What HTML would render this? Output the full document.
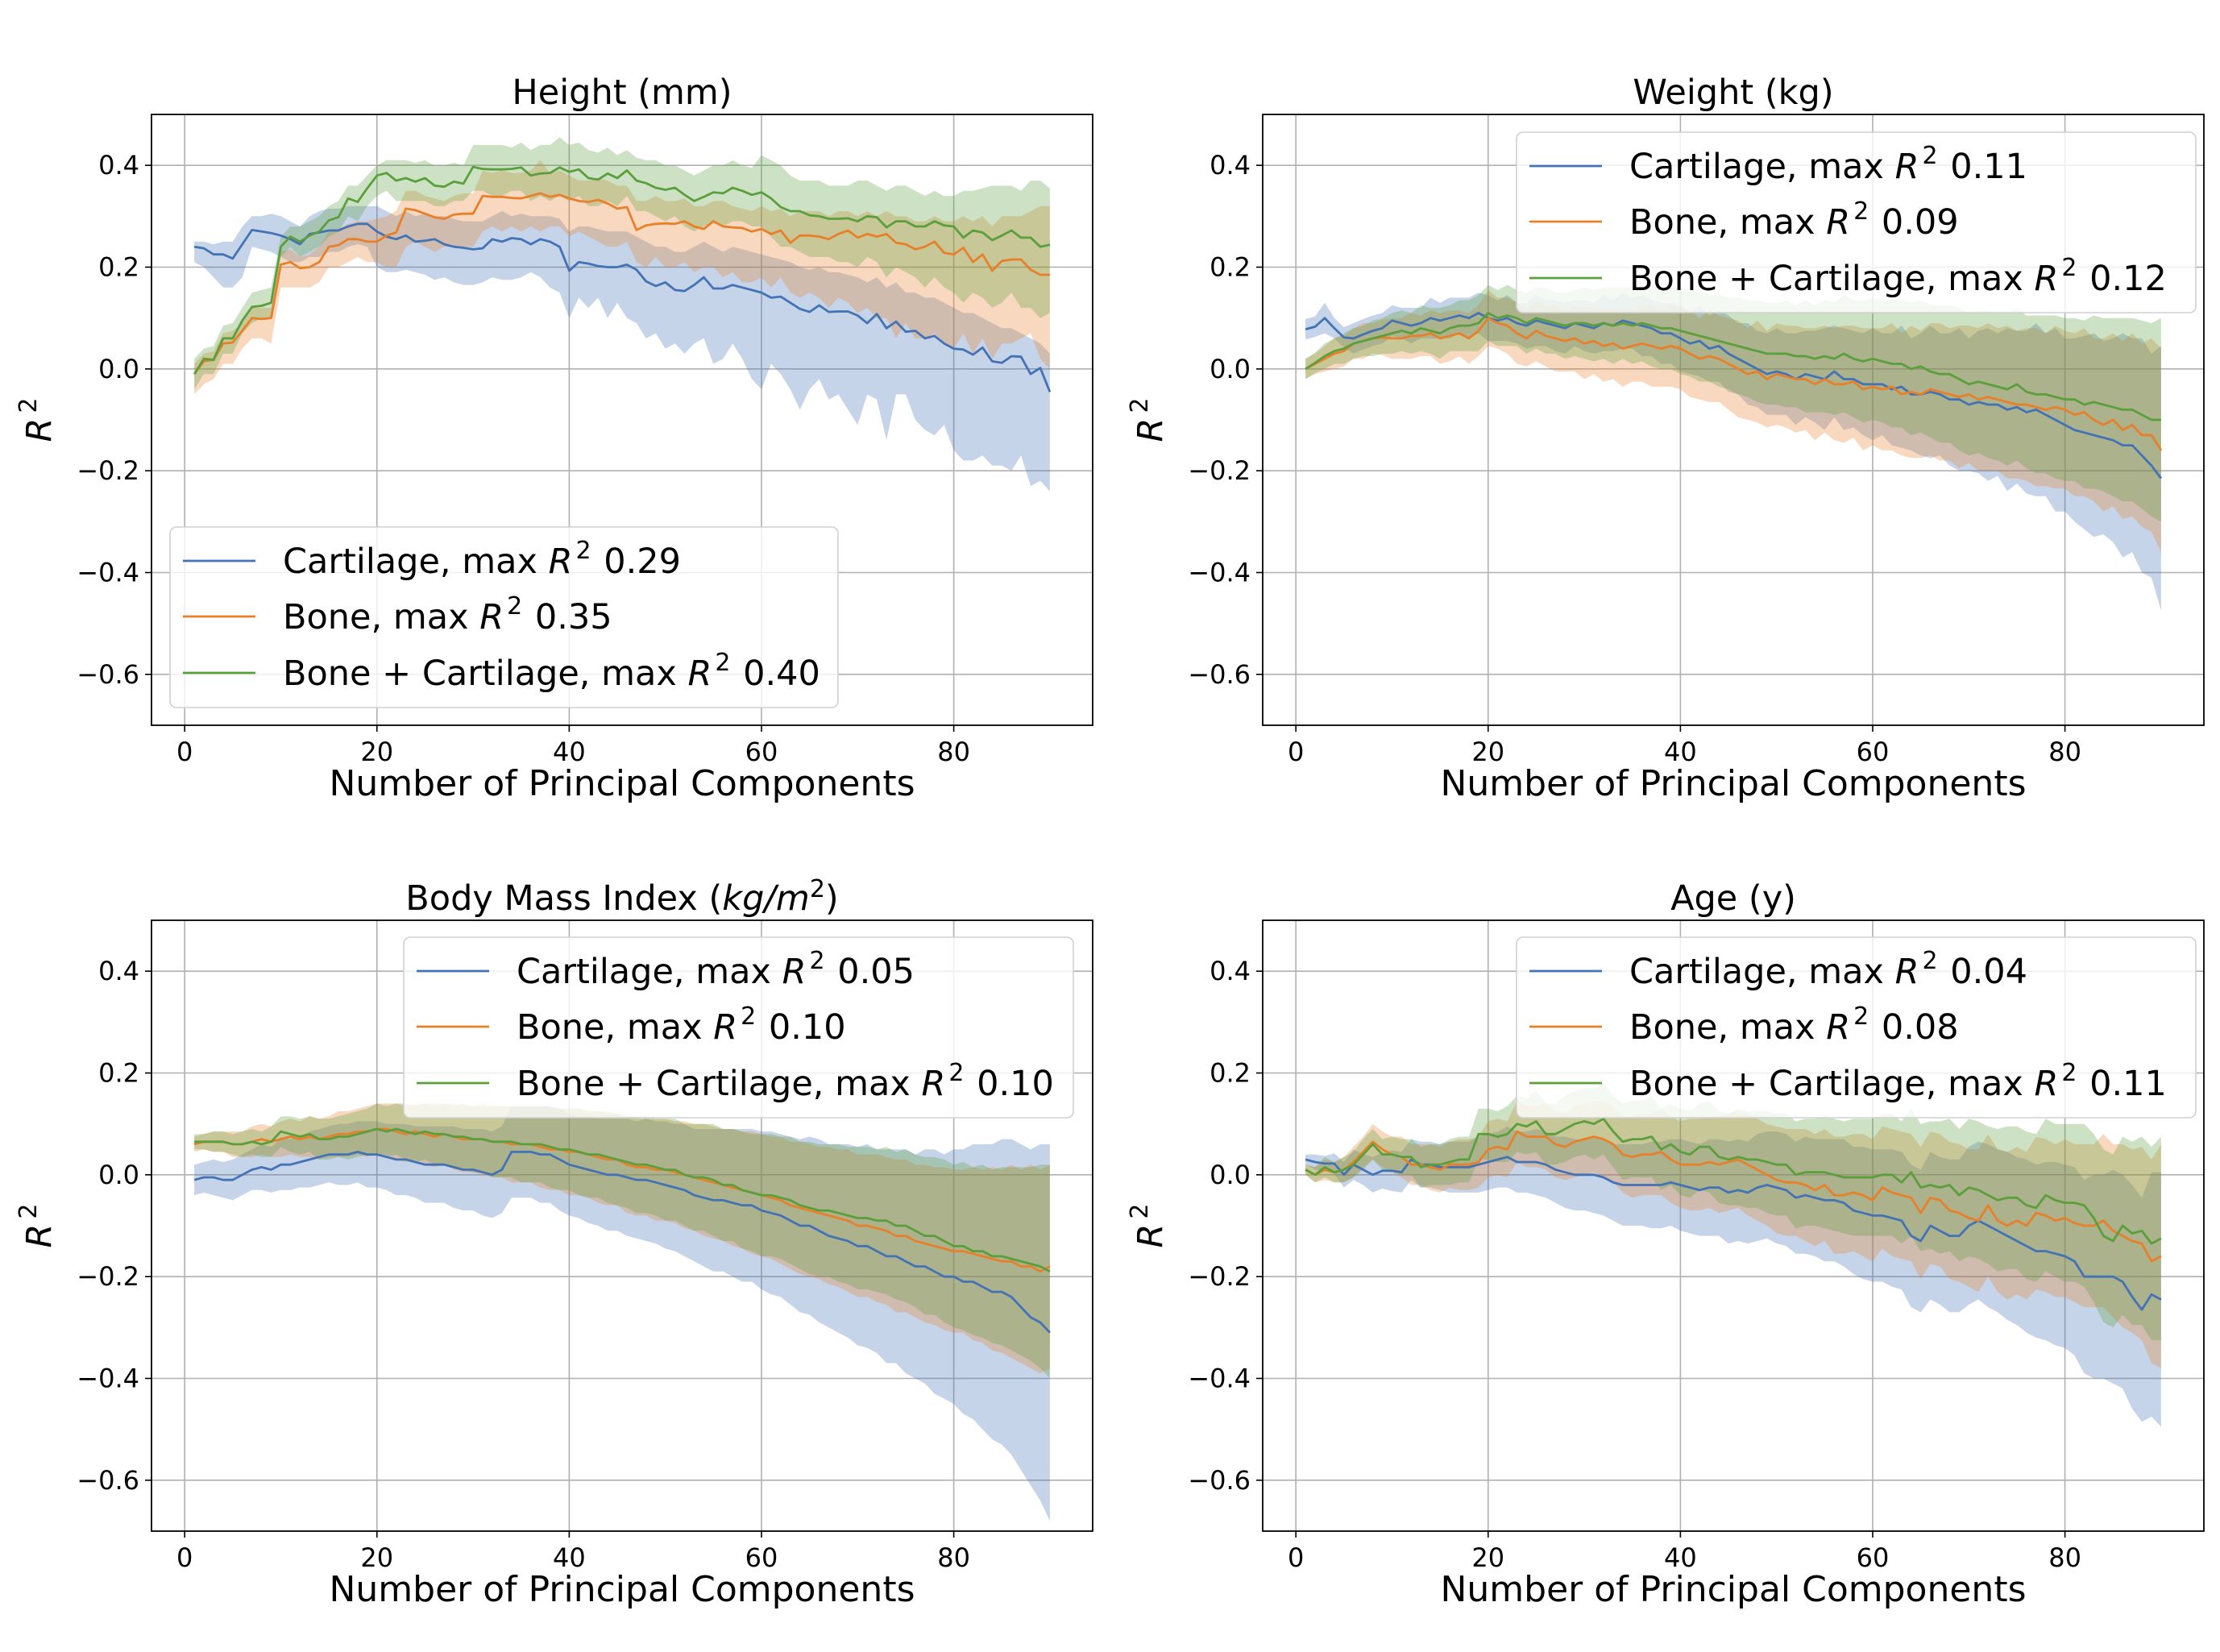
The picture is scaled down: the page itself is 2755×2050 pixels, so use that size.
<!DOCTYPE html>
<html><head><meta charset="utf-8">
<style>
html,body{margin:0;padding:0;background:#fff;}
svg{display:block;font-family:"DejaVu Sans","Liberation Sans",sans-serif;}
</style></head>
<body>
<svg id="fig" width="2755" height="2050" viewBox="0 0 2755 2050" xmlns="http://www.w3.org/2000/svg"></svg>
<script>
// ---------- data ----------
const xTicks = [0, 20, 40, 60, 80];
const yTicks = [-0.6, -0.4, -0.2, 0.0, 0.2, 0.4];
const yTickLabels = ["\u22120.6", "\u22120.4", "\u22120.2", "0.0", "0.2", "0.4"];
const seriesNames = ["Cartilage", "Bone", "Bone + Cartilage"];
const panelTitles = ["Height (mm)", "Weight (kg)", "Body Mass Index", "Age (y)"];
const maxR2Height = ["0.29", "0.35", "0.40"];
const maxR2Weight = ["0.11", "0.09", "0.12"];
const maxR2Bmi = ["0.05", "0.10", "0.10"];
const maxR2Age = ["0.04", "0.08", "0.11"];

// Height
const hCartMean = [.24,.237,.225,.225,.217,.245,.273,.27,.267,.262,.255,.245,.265,.268,.272,.272,.28,.285,.285,.27,.26,.255,.262,.25,.252,.255,.245,.24,.238,.235,.237,.255,.25,.257,.255,.245,.255,.25,.24,.193,.21,.207,.202,.2,.2,.205,.195,.172,.163,.17,.155,.153,.165,.18,.158,.158,.165,.16,.155,.15,.14,.142,.13,.118,.112,.125,.112,.113,.113,.105,.09,.108,.08,.093,.073,.075,.06,.065,.05,.04,.038,.028,.042,.015,.012,.025,.024,-.01,.002,-.045];
const hCartHi = [.25,.25,.245,.25,.25,.28,.3,.3,.305,.3,.29,.28,.3,.31,.315,.315,.32,.32,.32,.32,.31,.3,.31,.3,.305,.3,.3,.295,.29,.29,.29,.3,.31,.3,.305,.3,.3,.3,.295,.27,.28,.28,.275,.27,.27,.27,.26,.25,.24,.24,.23,.23,.24,.25,.24,.23,.24,.235,.23,.225,.22,.215,.21,.2,.195,.2,.19,.19,.185,.18,.17,.18,.16,.17,.15,.15,.14,.14,.13,.12,.11,.11,.1,.09,.08,.08,.07,.06,.05,.03];
const hCartLo = [.21,.2,.18,.16,.16,.18,.24,.235,.23,.22,.21,.21,.22,.22,.23,.23,.24,.245,.24,.2,.19,.19,.195,.19,.185,.175,.18,.17,.165,.165,.17,.18,.175,.175,.18,.19,.18,.16,.15,.1,.14,.12,.14,.1,.13,.1,.09,.06,.07,.04,.05,.03,.05,.06,.01,.02,.05,.02,-.02,-.04,.01,-.01,-.04,-.08,-.04,-.02,-.06,-.05,-.08,-.11,-.05,-.06,-.14,-.05,-.05,-.1,-.12,-.13,-.11,-.16,-.18,-.18,-.17,-.19,-.19,-.2,-.17,-.23,-.22,-.24];
const hBoneMean = [-.01,.015,.018,.05,.052,.075,.1,.098,.1,.205,.21,.198,.2,.21,.24,.243,.255,.255,.25,.25,.262,.268,.315,.312,.305,.298,.295,.303,.305,.305,.34,.338,.338,.336,.335,.34,.345,.338,.342,.335,.33,.328,.332,.325,.315,.318,.273,.282,.285,.286,.285,.29,.28,.275,.29,.28,.278,.277,.27,.275,.265,.272,.248,.262,.262,.26,.255,.265,.272,.258,.265,.26,.265,.248,.245,.235,.24,.25,.228,.225,.238,.21,.225,.193,.212,.215,.215,.195,.185,.185];
const hBoneHi = [.01,.03,.035,.07,.075,.09,.12,.12,.12,.23,.235,.22,.225,.24,.27,.275,.285,.29,.29,.295,.3,.31,.35,.35,.34,.335,.33,.34,.345,.345,.39,.385,.39,.385,.385,.39,.41,.385,.39,.38,.37,.37,.375,.37,.36,.36,.33,.33,.34,.33,.33,.335,.32,.32,.33,.33,.32,.315,.31,.32,.31,.315,.3,.31,.31,.31,.3,.31,.31,.3,.31,.3,.31,.3,.3,.29,.29,.3,.29,.29,.3,.29,.3,.28,.3,.3,.3,.31,.32,.32];
const hBoneLo = [-.05,-.03,-.02,.01,.01,.04,.06,.06,.05,.16,.16,.16,.16,.17,.2,.2,.21,.22,.21,.21,.2,.2,.24,.25,.24,.23,.24,.24,.24,.24,.27,.28,.27,.28,.27,.28,.27,.28,.28,.26,.27,.26,.25,.24,.24,.25,.21,.2,.22,.2,.2,.21,.19,.2,.2,.18,.19,.17,.17,.18,.16,.18,.15,.14,.15,.14,.12,.14,.13,.11,.12,.1,.1,.06,.09,.06,.06,.07,.05,.04,.07,.03,.06,.02,.05,.05,.06,.07,.02,.0];
const hBcMean = [-.01,.02,.018,.06,.06,.095,.122,.124,.13,.24,.26,.25,.262,.27,.292,.298,.335,.328,.355,.38,.385,.37,.375,.368,.375,.36,.358,.368,.364,.397,.393,.392,.392,.393,.396,.38,.384,.385,.396,.387,.392,.375,.372,.384,.375,.39,.37,.365,.356,.352,.356,.342,.33,.338,.347,.345,.356,.35,.342,.347,.335,.318,.31,.31,.302,.3,.295,.295,.296,.29,.3,.298,.278,.29,.29,.28,.28,.29,.282,.28,.258,.272,.268,.253,.262,.272,.258,.258,.24,.244];
const hBcHi = [.02,.04,.045,.085,.09,.12,.15,.155,.16,.26,.28,.28,.29,.3,.32,.33,.36,.36,.38,.4,.41,.41,.41,.405,.41,.4,.4,.405,.4,.44,.44,.44,.44,.435,.445,.43,.44,.44,.455,.44,.445,.43,.425,.435,.42,.43,.415,.41,.41,.4,.4,.39,.38,.39,.4,.4,.41,.4,.395,.42,.41,.4,.38,.37,.37,.37,.36,.36,.36,.37,.37,.36,.35,.36,.36,.35,.34,.35,.34,.34,.35,.35,.355,.36,.36,.36,.35,.37,.37,.355];
const hBcLo = [-.04,-.01,-.01,.03,.03,.07,.09,.1,.1,.22,.24,.22,.23,.24,.26,.27,.3,.29,.32,.34,.35,.33,.33,.33,.33,.32,.32,.33,.33,.35,.35,.34,.34,.35,.35,.33,.34,.33,.34,.33,.34,.32,.32,.33,.32,.34,.31,.31,.3,.29,.3,.28,.27,.28,.29,.28,.29,.29,.28,.28,.26,.24,.24,.23,.22,.22,.22,.21,.21,.2,.22,.21,.18,.2,.19,.18,.16,.18,.16,.15,.13,.15,.14,.12,.13,.15,.12,.12,.1,.11];

// Weight
const wCartMean = [.078,.083,.1,.08,.062,.06,.068,.075,.08,.095,.09,.085,.09,.1,.095,.1,.105,.1,.11,.1,.095,.1,.09,.085,.095,.09,.085,.08,.09,.085,.08,.09,.085,.095,.09,.085,.08,.07,.07,.06,.05,.055,.04,.045,.03,.02,.01,.0,-.01,-.005,-.01,-.02,-.01,-.015,-.02,-.005,-.02,-.02,-.03,-.03,-.03,-.04,-.035,-.05,-.05,-.045,-.05,-.06,-.06,-.07,-.065,-.07,-.07,-.08,-.075,-.085,-.08,-.09,-.1,-.11,-.12,-.125,-.13,-.135,-.14,-.15,-.15,-.17,-.19,-.215];
const wCartSd = [.02,.02,.03,.02,.02,.03,.03,.03,.03,.03,.03,.035,.03,.04,.035,.04,.035,.04,.04,.045,.04,.045,.04,.045,.05,.045,.05,.05,.045,.05,.05,.055,.05,.055,.05,.06,.055,.06,.06,.065,.06,.07,.065,.07,.075,.07,.08,.075,.08,.085,.08,.09,.085,.09,.1,.09,.1,.095,.1,.11,.1,.11,.12,.11,.12,.13,.12,.13,.14,.13,.14,.15,.14,.16,.15,.16,.17,.16,.18,.17,.18,.19,.2,.19,.2,.22,.21,.23,.22,.26];
const wBoneMean = [.0,.01,.02,.03,.035,.05,.055,.06,.062,.06,.06,.065,.065,.07,.06,.065,.07,.06,.075,.1,.09,.085,.07,.06,.075,.065,.06,.055,.06,.05,.055,.045,.05,.04,.045,.05,.045,.04,.045,.04,.03,.02,.025,.02,.01,.0,-.01,-.005,-.02,-.01,-.015,-.02,-.02,-.03,-.02,-.03,-.03,-.025,-.04,-.035,-.04,-.035,-.05,-.045,-.05,-.04,-.045,-.05,-.055,-.05,-.06,-.055,-.06,-.065,-.07,-.07,-.075,-.08,-.075,-.08,-.09,-.085,-.1,-.11,-.1,-.12,-.11,-.13,-.13,-.16];
const wBoneSd = [.02,.02,.025,.03,.03,.03,.035,.03,.035,.04,.04,.045,.04,.045,.05,.05,.045,.05,.05,.055,.05,.055,.06,.055,.06,.06,.065,.06,.065,.07,.065,.07,.07,.075,.07,.075,.08,.075,.08,.08,.085,.08,.09,.085,.09,.095,.09,.1,.095,.1,.1,.105,.1,.11,.105,.11,.115,.11,.12,.115,.12,.125,.12,.13,.125,.13,.135,.13,.14,.135,.14,.145,.14,.15,.145,.15,.155,.15,.16,.155,.16,.165,.16,.17,.17,.175,.18,.18,.19,.2];
const wBcMean = [.0,.012,.025,.035,.04,.05,.055,.06,.065,.07,.075,.07,.08,.075,.07,.08,.085,.085,.09,.11,.1,.105,.1,.09,.1,.095,.09,.085,.09,.09,.085,.09,.085,.09,.085,.09,.085,.08,.08,.075,.07,.065,.06,.055,.05,.045,.04,.035,.03,.03,.03,.025,.025,.02,.025,.02,.03,.02,.015,.02,.015,.01,.01,.0,.005,-.005,-.01,-.01,-.02,-.03,-.025,-.03,-.035,-.04,-.03,-.045,-.05,-.05,-.055,-.06,-.06,-.07,-.065,-.07,-.075,-.08,-.08,-.09,-.1,-.1];
const wBcSd = [.02,.02,.025,.025,.03,.03,.03,.035,.035,.04,.04,.04,.045,.045,.05,.045,.05,.05,.055,.055,.055,.06,.055,.06,.06,.065,.06,.065,.065,.07,.07,.07,.075,.07,.075,.075,.08,.08,.08,.085,.085,.09,.085,.09,.09,.095,.095,.1,.1,.1,.105,.1,.11,.105,.11,.11,.115,.115,.12,.12,.12,.125,.125,.13,.13,.13,.135,.135,.14,.14,.14,.145,.145,.15,.15,.15,.155,.155,.16,.16,.16,.165,.17,.17,.175,.18,.18,.185,.19,.2];

// BMI
const bCartMean = [-.01,-.005,-.005,-.01,-.01,.0,.01,.015,.01,.02,.02,.025,.03,.035,.04,.04,.04,.045,.04,.04,.035,.03,.03,.025,.02,.02,.02,.015,.01,.01,.005,.0,.01,.045,.045,.045,.04,.04,.03,.02,.015,.01,.005,.0,.0,-.005,-.01,-.01,-.015,-.02,-.025,-.03,-.04,-.045,-.05,-.05,-.055,-.06,-.06,-.07,-.075,-.08,-.09,-.1,-.1,-.11,-.12,-.125,-.13,-.14,-.14,-.15,-.16,-.16,-.17,-.18,-.18,-.19,-.2,-.2,-.21,-.21,-.22,-.23,-.23,-.24,-.26,-.28,-.29,-.31];
const bCartSd = [.03,.03,.035,.035,.04,.04,.04,.045,.045,.05,.05,.05,.055,.055,.055,.06,.06,.06,.065,.065,.065,.07,.07,.07,.075,.075,.075,.08,.08,.08,.085,.085,.085,.09,.09,.09,.095,.095,.1,.1,.1,.105,.105,.11,.11,.115,.115,.12,.12,.125,.125,.13,.13,.135,.14,.14,.145,.15,.15,.155,.16,.16,.165,.17,.175,.18,.18,.185,.19,.195,.2,.2,.21,.21,.22,.22,.23,.24,.24,.25,.26,.27,.28,.29,.3,.31,.32,.33,.35,.37];
const bBoneMean = [.06,.065,.065,.065,.06,.06,.065,.07,.065,.07,.075,.07,.075,.07,.075,.08,.08,.085,.085,.09,.09,.085,.08,.085,.08,.075,.08,.075,.07,.07,.07,.065,.065,.06,.06,.06,.055,.05,.05,.045,.045,.04,.035,.03,.03,.02,.015,.015,.01,.01,.005,.0,-.005,-.01,-.015,-.02,-.025,-.03,-.035,-.04,-.045,-.05,-.06,-.065,-.07,-.075,-.08,-.085,-.09,-.1,-.1,-.105,-.11,-.12,-.12,-.13,-.135,-.14,-.145,-.15,-.15,-.155,-.16,-.165,-.17,-.17,-.18,-.18,-.19,-.18];
const bBoneSd = [.015,.015,.02,.02,.025,.025,.03,.03,.03,.035,.035,.035,.04,.04,.04,.045,.045,.045,.05,.05,.05,.055,.055,.055,.06,.06,.06,.065,.065,.065,.07,.07,.07,.075,.075,.075,.08,.08,.08,.085,.085,.085,.09,.09,.09,.095,.095,.095,.1,.1,.1,.105,.105,.11,.11,.11,.115,.115,.12,.12,.12,.125,.125,.13,.13,.13,.135,.135,.14,.14,.14,.145,.145,.15,.15,.15,.155,.155,.16,.16,.16,.17,.17,.18,.18,.19,.19,.2,.2,.2];
const bBcMean = [.065,.065,.065,.065,.06,.06,.065,.06,.065,.085,.08,.075,.08,.07,.07,.075,.075,.08,.085,.09,.085,.09,.085,.08,.085,.08,.08,.075,.075,.07,.07,.065,.065,.065,.06,.06,.06,.055,.05,.05,.045,.04,.04,.035,.03,.025,.02,.02,.015,.01,.01,.0,-.005,-.005,-.01,-.02,-.02,-.03,-.035,-.04,-.04,-.045,-.05,-.06,-.065,-.07,-.07,-.075,-.08,-.085,-.085,-.09,-.09,-.1,-.1,-.11,-.12,-.12,-.13,-.14,-.14,-.15,-.15,-.16,-.16,-.165,-.17,-.175,-.18,-.19];
const bBcSd = [.015,.015,.02,.02,.02,.025,.025,.025,.03,.03,.035,.035,.035,.04,.04,.04,.045,.045,.045,.05,.05,.05,.055,.055,.055,.06,.06,.06,.065,.065,.065,.07,.07,.07,.075,.075,.075,.08,.08,.08,.085,.085,.085,.09,.09,.09,.095,.095,.095,.1,.1,.1,.105,.105,.11,.11,.11,.115,.115,.12,.12,.12,.125,.125,.13,.13,.13,.135,.135,.14,.14,.14,.145,.145,.15,.15,.155,.155,.16,.16,.165,.165,.17,.17,.175,.18,.185,.19,.2,.21];

// Age
const aCartMean = [.03,.025,.022,.022,.0,.02,.01,.0,.008,.008,.005,.03,.02,.02,.015,.015,.015,.015,.02,.025,.03,.035,.025,.025,.025,.02,.01,.005,.0,.0,.0,-.005,-.015,-.02,-.02,-.02,-.02,-.02,-.015,-.02,-.025,-.03,-.025,-.025,-.035,-.03,-.035,-.025,-.02,-.025,-.03,-.045,-.04,-.045,-.05,-.05,-.055,-.07,-.075,-.08,-.08,-.085,-.09,-.12,-.13,-.1,-.11,-.12,-.12,-.1,-.09,-.1,-.11,-.12,-.13,-.14,-.15,-.15,-.155,-.16,-.17,-.2,-.2,-.2,-.2,-.21,-.24,-.265,-.235,-.245];
const aCartSd = [.01,.015,.015,.02,.025,.03,.03,.035,.035,.04,.04,.04,.045,.045,.045,.05,.05,.05,.055,.055,.055,.06,.06,.06,.065,.065,.065,.07,.07,.07,.075,.075,.075,.08,.08,.08,.085,.085,.085,.09,.09,.09,.095,.095,.1,.1,.1,.105,.105,.11,.11,.11,.115,.115,.12,.12,.125,.125,.13,.13,.13,.135,.135,.14,.14,.145,.145,.15,.15,.155,.155,.16,.16,.165,.165,.17,.17,.175,.18,.18,.185,.19,.2,.2,.21,.21,.22,.22,.24,.25];
const aBoneMean = [.01,.0,.01,.005,.01,.025,.045,.065,.05,.04,.035,.02,.02,.015,.01,.02,.02,.02,.025,.05,.055,.05,.085,.075,.075,.075,.06,.055,.065,.07,.075,.07,.06,.04,.035,.04,.04,.045,.03,.02,.02,.02,.025,.02,.025,.03,.02,.01,.0,-.01,-.015,-.015,-.02,-.03,-.02,-.04,-.04,-.035,-.04,-.05,-.025,-.035,-.04,-.045,-.075,-.045,-.05,-.07,-.075,-.085,-.09,-.06,-.09,-.1,-.09,-.1,-.075,-.08,-.09,-.085,-.095,-.1,-.1,-.09,-.11,-.12,-.13,-.135,-.17,-.16];
const aBoneSd = [.01,.015,.02,.02,.025,.03,.03,.035,.035,.035,.04,.04,.04,.045,.045,.045,.05,.05,.05,.055,.055,.055,.06,.06,.06,.065,.065,.065,.07,.07,.07,.075,.075,.075,.08,.08,.08,.085,.085,.085,.09,.09,.09,.095,.095,.095,.1,.1,.1,.105,.105,.105,.11,.11,.11,.115,.115,.115,.12,.12,.12,.125,.125,.125,.13,.13,.13,.135,.135,.135,.14,.14,.14,.145,.145,.145,.15,.15,.15,.155,.155,.16,.16,.17,.17,.18,.18,.19,.2,.22];
const aBcMean = [.01,.0,.015,.005,.01,.02,.04,.06,.04,.04,.035,.035,.015,.02,.02,.025,.03,.03,.08,.08,.075,.08,.1,.095,.105,.08,.08,.09,.1,.105,.1,.11,.085,.065,.07,.07,.075,.05,.06,.045,.04,.055,.055,.035,.03,.035,.03,.03,.025,.02,.02,.0,.005,.005,.005,.0,-.005,-.005,-.005,-.005,.0,.0,-.015,.005,-.025,-.02,-.025,-.02,-.04,-.025,-.03,-.04,-.05,-.045,-.045,-.06,-.065,-.04,-.05,-.055,-.055,-.06,-.085,-.12,-.13,-.1,-.115,-.11,-.135,-.125];
const aBcSd = [.01,.015,.02,.02,.025,.025,.03,.03,.03,.035,.035,.035,.04,.04,.04,.045,.045,.045,.05,.05,.05,.055,.055,.055,.06,.06,.06,.065,.065,.065,.07,.07,.07,.075,.075,.075,.08,.08,.08,.085,.085,.085,.09,.09,.09,.095,.095,.095,.1,.1,.1,.105,.105,.105,.11,.11,.11,.115,.115,.115,.12,.12,.12,.125,.125,.125,.13,.13,.13,.135,.135,.135,.14,.14,.14,.145,.145,.15,.15,.155,.155,.16,.165,.17,.17,.175,.18,.185,.19,.2];

// ---------- drawing ----------
const NS = "http://www.w3.org/2000/svg";
const svg = document.getElementById("fig");
const COLORS = ["#4372b5", "#e8802a", "#5a9f3c"];
const PW = 1168, PH = 758;
const XMIN = -3.45, XMAX = 94.45, YMIN = -0.7, YMAX = 0.5;

function mk(tag, attrs, parent) {
  const e = document.createElementNS(NS, tag);
  for (const k in attrs) e.setAttribute(k, attrs[k]);
  (parent || svg).appendChild(e);
  return e;
}
function band(mean, sd, sign) { return mean.map((v, i) => v + sign * sd[i]); }

const panels = [
  {key:"height", ox:188, oy:142, title:panelTitles[0], maxes:maxR2Height, leg:{x:211,y:654,w:829},
   series:[{m:hCartMean,lo:hCartLo,hi:hCartHi},{m:hBoneMean,lo:hBoneLo,hi:hBoneHi},{m:hBcMean,lo:hBcLo,hi:hBcHi}]},
  {key:"weight", ox:1567, oy:142, title:panelTitles[1], maxes:maxR2Weight, leg:{x:1882,y:164,w:843},
   series:[{m:wCartMean,lo:band(wCartMean,wCartSd,-1),hi:band(wCartMean,wCartSd,1)},{m:wBoneMean,lo:band(wBoneMean,wBoneSd,-1),hi:band(wBoneMean,wBoneSd,1)},{m:wBcMean,lo:band(wBcMean,wBcSd,-1),hi:band(wBcMean,wBcSd,1)}]},
  {key:"bmi", ox:188, oy:1142, title:panelTitles[2], maxes:maxR2Bmi, leg:{x:501,y:1163,w:831},
   series:[{m:bCartMean,lo:band(bCartMean,bCartSd,-1),hi:band(bCartMean,bCartSd,1)},{m:bBoneMean,lo:band(bBoneMean,bBoneSd,-1),hi:band(bBoneMean,bBoneSd,1)},{m:bBcMean,lo:band(bBcMean,bBcSd,-1),hi:band(bBcMean,bBcSd,1)}]},
  {key:"age", ox:1567, oy:1142, title:panelTitles[3], maxes:maxR2Age, leg:{x:1882,y:1163,w:843},
   series:[{m:aCartMean,lo:band(aCartMean,aCartSd,-1),hi:band(aCartMean,aCartSd,1)},{m:aBoneMean,lo:band(aBoneMean,aBoneSd,-1),hi:band(aBoneMean,aBoneSd,1)},{m:aBcMean,lo:band(aBcMean,aBcSd,-1),hi:band(aBcMean,aBcSd,1)}]}
];

panels.forEach(p => {
  const sx = v => p.ox + (v - XMIN) / (XMAX - XMIN) * PW;
  const sy = v => p.oy + (YMAX - v) / (YMAX - YMIN) * PH;
  const g = mk("g", {});
  
  

  xTicks.forEach(t => {
    const l = mk("line", {x1:sx(t), x2:sx(t), y1:p.oy, y2:p.oy+PH, stroke:"#b0b0b0", "stroke-width":1.6}, g);
    
    
  });
  yTicks.forEach(t => {
    const l = mk("line", {x1:p.ox, x2:p.ox+PW, y1:sy(t), y2:sy(t), stroke:"#b0b0b0", "stroke-width":1.6}, g);
    
    
  });

  p.series.forEach((s, si) => {
    let d = "";
    s.hi.forEach((v, i) => { d += (i ? "L" : "M") + sx(i + 1).toFixed(1) + "," + sy(v).toFixed(1); });
    for (let i = s.lo.length - 1; i >= 0; i--) d += "L" + sx(i + 1).toFixed(1) + "," + sy(s.lo[i]).toFixed(1);
    d += "Z";
    const b = mk("path", {d:d, fill:COLORS[si], "fill-opacity":0.3, stroke:"none"}, g);
    
    
  });
  p.series.forEach((s, si) => {
    const pts = s.m.map((v, i) => sx(i + 1).toFixed(1) + "," + sy(v).toFixed(1)).join(" ");
    const l = mk("polyline", {points:pts, fill:"none", stroke:COLORS[si], "stroke-width":2.8, "stroke-linejoin":"round"}, g);
    
    
  });

  const fr = mk("rect", {x:p.ox, y:p.oy, width:PW, height:PH, fill:"none", stroke:"#000", "stroke-width":1.8}, g);
  
  

  xTicks.forEach(t => {
    const tk = mk("line", {x1:sx(t), x2:sx(t), y1:p.oy+PH, y2:p.oy+PH+8, stroke:"#000", "stroke-width":1.6}, g);
    
    
    const tx = mk("text", {x:sx(t), y:p.oy+PH+44, "text-anchor":"middle", "font-size":32, fill:"#000"}, g);
    tx.textContent = String(t);
    
    
  });
  yTicks.forEach((t, i) => {
    const tk = mk("line", {x1:p.ox-8, x2:p.ox, y1:sy(t), y2:sy(t), stroke:"#000", "stroke-width":1.6}, g);
    
    
    const tx = mk("text", {x:p.ox-15, y:sy(t)+11, "text-anchor":"end", "font-size":32, fill:"#000"}, g);
    tx.textContent = yTickLabels[i];
    
    
  });

  const ti = mk("text", {x:p.ox+PW/2, y:p.oy-13, "text-anchor":"middle", "font-size":43, fill:"#000"}, g);
  if (p.key === "bmi") {
    ti.textContent = p.title + " (";
    const it = mk("tspan", {"font-style":"italic"}, ti); it.textContent = "kg/m";
    const sup = mk("tspan", {"font-size":30, dy:-16}, ti); sup.textContent = "2";
    const cl = mk("tspan", {dy:16}, ti); cl.textContent = ")";
  } else {
    ti.textContent = p.title;
  }
  
  

  const xl = mk("text", {x:p.ox+PW/2, y:p.oy+PH+87, "text-anchor":"middle", "font-size":44, fill:"#000"}, g);
  xl.textContent = "Number of Principal Components";
  
  

  const yx = p.ox - 125, yy = p.oy + PH/2;
  const yl = mk("text", {x:yx, y:yy, "text-anchor":"middle", "font-size":43, fill:"#000", transform:"rotate(-90 " + yx + " " + yy + ")"}, g);
  const r = mk("tspan", {"font-style":"italic"}, yl); r.textContent = "R";
  const s2 = mk("tspan", {"font-size":30, dy:-18, dx:6}, yl); s2.textContent = "2";
  
  

  const L = p.leg;
  const lg = mk("g", {}, g);
  
  
  mk("rect", {x:L.x, y:L.y, width:L.w, height:224, rx:8, fill:"#fff", "fill-opacity":0.8, stroke:"#d0d0d0", "stroke-width":1.6}, lg);
  const offs = [42, 111, 181];
  seriesNames.forEach((n, si) => {
    const ey = L.y + offs[si];
    const ent = mk("g", {}, lg);
    
    
    mk("line", {x1:L.x+16, x2:L.x+106, y1:ey, y2:ey, stroke:COLORS[si], "stroke-width":2.8}, ent);
    const t = mk("text", {x:L.x+140, y:ey+15, "font-size":43, fill:"#000"}, ent);
    t.textContent = n + ", max ";
    const ri = mk("tspan", {"font-style":"italic"}, t); ri.textContent = "R";
    const su = mk("tspan", {"font-size":30, dy:-18, dx:4}, t); su.textContent = "2";
    const val = mk("tspan", {dy:18, dx:2}, t); val.textContent = " " + p.maxes[si];
  });
});
</script>
</body></html>
